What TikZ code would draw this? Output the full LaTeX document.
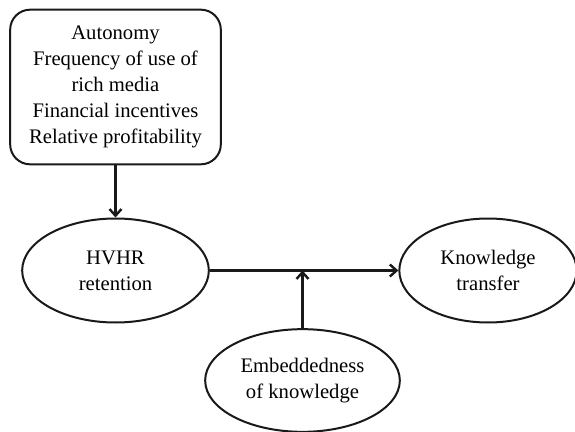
\documentclass[tikz,border=0pt]{standalone}
\usepackage{fontspec}
\setmainfont{Liberation Serif}
\usetikzlibrary{arrows.meta, shapes.geometric}
\begin{document}
\begin{tikzpicture}[x=0.75pt, y=-0.75pt,
    every node/.style={font=\rmfamily\fontsize{15.5}{19.5}\selectfont, align=center, line width=1.5pt, draw=black!90},
    factorbox/.style={rectangle, rounded corners=15pt, minimum width=158pt, minimum height=116pt},
    construct/.style={ellipse, minimum width=#1, minimum height=78pt},
    link/.style={draw=black!90, line width=1.8pt, -{Straight Barb[length=5pt, width=9pt]}}]
    % Frame
    \useasboundingbox (0,0) rectangle (575,432);

    % Antecedents
    \node[factorbox] (factors) at (115.5,87) {Autonomy\\Frequency of use of\\rich media\\Financial incentives\\Relative profitability};

    % Constructs
    \node[construct=140pt] (retention) at (115.5,270.5) {HVHR\\retention};
    \node[construct=133pt] (transfer) at (488,270.5) {Knowledge\\transfer};
    \node[construct=146pt, minimum height=77pt] (embed) at (302.5,380.5) {Embeddedness\\of knowledge};

    % Links
    \coordinate (moderate) at (302.5,270.5);
    \draw[link] (factors) -- (retention);
    \draw[link] (retention) -- (transfer);
    \draw[link] (embed) -- (moderate);
\end{tikzpicture}
\end{document}
